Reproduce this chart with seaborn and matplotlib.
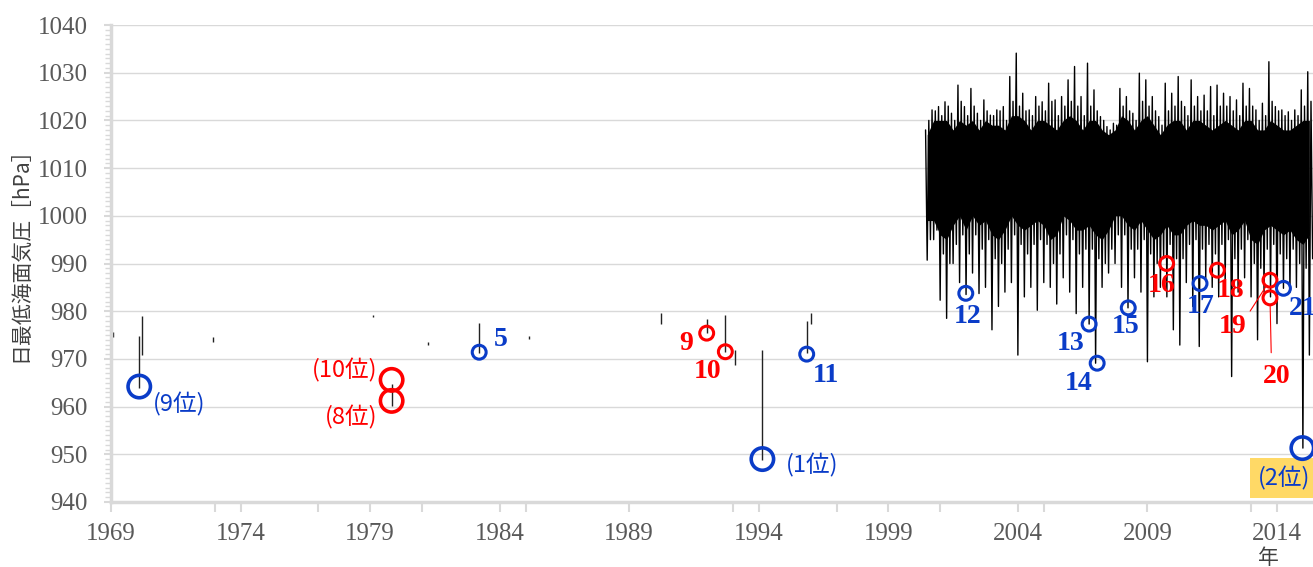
import matplotlib.pyplot as plt
import numpy as np
import pandas as pd
import seaborn as sns
from matplotlib.ticker import FixedLocator, MultipleLocator

# ---- early record: short daily segments (year, low, high) ----
early_year = [1969.08, 1970.09, 1970.21, 1972.95, 1979.10, 1979.83, 1981.22, 1983.21,
              1985.14, 1990.21, 1991.99, 1992.71, 1993.08, 1994.14, 1995.85, 1996.03]
early_low = [974.6, 963.8, 970.8, 973.5, 978.8, 960.1, 972.9, 971.2,
             974.1, 977.3, 975.4, 971.5, 968.7, 948.8, 971.2, 977.3]
early_high = [975.7, 974.7, 979.0, 974.5, 979.1, 964.7, 973.6, 977.6,
              974.8, 979.6, 978.3, 979.2, 971.9, 971.9, 978.0, 979.6]

# ---- continuous record from 2000, read every quarter year ----
dense_year = [2000.50, 2000.75, 2001.00, 2001.25, 2001.50, 2001.75, 2002.00, 2002.25,
              2002.50, 2002.75, 2003.00, 2003.25, 2003.50, 2003.75, 2004.00, 2004.25,
              2004.50, 2004.75, 2005.00, 2005.25, 2005.50, 2005.75, 2006.00, 2006.25,
              2006.50, 2006.75, 2007.00, 2007.25, 2007.50, 2007.75, 2008.00, 2008.25,
              2008.50, 2008.75, 2009.00, 2009.25, 2009.50, 2009.75, 2010.00, 2010.25,
              2010.50, 2010.75, 2011.00, 2011.25, 2011.50, 2011.75, 2012.00, 2012.25,
              2012.50, 2012.75, 2013.00, 2013.25, 2013.50, 2013.75, 2014.00, 2014.25,
              2014.50, 2014.75, 2015.00, 2015.25]
# highest and lowest spike in each quarter
dense_high = [1018.0, 1022.2, 1022.9, 1023.9, 1021.5, 1027.4, 1022.9, 1026.7,
              1021.5, 1024.3, 1021.1, 1022.2, 1022.9, 1029.2, 1034.1, 1025.7,
              1022.2, 1025.0, 1023.9, 1027.8, 1024.3, 1025.0, 1028.5, 1031.3,
              1025.0, 1032.0, 1026.4, 1020.8, 1018.7, 1019.4, 1026.7, 1025.0,
              1021.5, 1029.9, 1028.5, 1025.0, 1020.8, 1027.8, 1025.7, 1029.2,
              1022.9, 1028.5, 1025.0, 1025.3, 1027.1, 1027.4, 1025.7, 1025.0,
              1024.3, 1027.8, 1026.7, 1022.2, 1023.6, 1032.3, 1022.9, 1022.2,
              1021.8, 1022.2, 1026.4, 1030.2]
dense_low = [990.7, 995.0, 982.3, 978.5, 990.0, 986.0, 983.5, 988.0,
             983.7, 985.0, 976.1, 981.0, 984.0, 986.0, 970.8, 983.0,
             985.0, 980.2, 986.0, 985.0, 981.5, 987.0, 984.0, 979.5,
             985.0, 977.3, 969.1, 985.0, 988.0, 990.0, 985.0, 980.7,
             987.0, 984.0, 969.4, 983.0, 985.0, 983.0, 976.1, 972.9,
             986.0, 981.0, 972.6, 987.0, 985.0, 983.0, 985.0, 966.3,
             984.0, 987.0, 983.0, 974.0, 984.0, 983.0, 977.4, 984.8,
             984.0, 985.0, 951.3, 970.8]
# typical (second) swing in each quarter
dense_high2 = [1020, 1022, 1021, 1023, 1020, 1024, 1021, 1023, 1020, 1022, 1021, 1022,
               1020, 1024, 1023, 1022, 1021, 1023, 1022, 1024, 1021, 1023, 1024, 1023,
               1021, 1023, 1022, 1020, 1018, 1019, 1023, 1022, 1020, 1024, 1023, 1022,
               1019, 1022, 1023, 1024, 1021, 1023, 1022, 1022, 1021, 1023, 1023, 1022,
               1021, 1023, 1023, 1020, 1021, 1024, 1022, 1021, 1020, 1021, 1023, 1024]
dense_low2 = [995, 997, 992, 990, 994, 996, 992, 996, 993, 995, 991, 990,
              993, 996, 994, 992, 994, 995, 994, 990, 992, 996, 995, 992,
              993, 993, 991, 990, 993, 996, 996, 993, 993, 995, 992, 990,
              991, 994, 991, 991, 994, 995, 993, 994, 992, 994, 995, 991,
              993, 995, 990, 989, 993, 994, 992, 991, 993, 990, 989, 991]
# edges of the solid black band
core_high = [1017, 1020, 1020, 1020, 1018, 1020, 1019, 1020, 1018, 1020, 1019, 1019,
             1018, 1021, 1021, 1020, 1018, 1020, 1020, 1019, 1018, 1020, 1021, 1020,
             1018, 1020, 1020, 1018, 1017, 1018, 1021, 1020, 1018, 1020, 1021, 1019,
             1017, 1019, 1020, 1020, 1018, 1020, 1020, 1019, 1018, 1019, 1020, 1019,
             1018, 1020, 1020, 1018, 1018, 1020, 1019, 1018, 1018, 1019, 1020, 1020]
core_low = [999, 999, 996, 995, 998, 1000, 997, 1000, 998, 999, 996, 995,
            997, 1000, 998, 997, 998, 999, 998, 995, 996, 1000, 999, 997,
            997, 998, 996, 995, 997, 1000, 1000, 998, 997, 999, 997, 995,
            996, 998, 996, 996, 998, 999, 998, 998, 997, 998, 999, 996,
            997, 999, 995, 994, 997, 998, 997, 996, 997, 995, 994, 996]
# timing of the four swings inside a quarter, relative to dense_year
swing_lag = [-0.0625, 0.0, 0.0625, 0.125]

# ---- marked low-pressure events ----
event_label = ["(9位)", "(10位)", "(8位)", "5", "9", "10", "(1位)", "11", "12", "13", "14",
               "15", "16", "17", "18", "19", "20", "21", "(2位)"]
event_year = [1970.09, 1979.83, 1979.83, 1983.21, 1991.99, 1992.71, 1994.14, 1995.85,
              2001.99, 2006.75, 2007.06, 2008.26, 2009.74, 2011.03, 2011.70, 2013.73,
              2013.73, 2014.25, 2014.98]
event_hpa = [964.2, 965.6, 961.2, 971.4, 975.4, 971.5, 949.0, 971.0,
             983.75, 977.3, 969.1, 980.7, 990.0, 985.8, 988.6, 986.5,
             982.8, 984.8, 951.3]
event_group = ["b", "r", "r", "b", "r", "r", "b", "b", "b", "b", "b",
               "b", "r", "b", "r", "r", "r", "b", "b"]

tick_years = [1969, 1974, 1979, 1984, 1989, 1994, 1999, 2004, 2009, 2014]
minor_years = [1969, 1973, 1977, 1981, 1985, 1989, 1993, 1997, 2001, 2005, 2009, 2013]

BLUE = "#0a3cc8"
RED = "#ff0000"
GRID = "#d9d9d9"
PX = 72 / 100  # points per pixel at dpi 100

# label placement: (dx px, dy px downward, ha)
label_pos = {
    "(9位)": (14, 18, "left"), "(10位)": (-14, -10, "right"), "(8位)": (-14, 16, "right"),
    "(1位)": (23, 6, "left"), "(2位)": (-18, 30, "center"),
    "5": (22, -13, "center"), "9": (-21, 10, "center"), "10": (-18, 20, "center"),
    "11": (19, 21, "center"), "12": (2, 23, "center"), "13": (-19, 19, "center"),
    "14": (-19, 20, "center"), "15": (-3, 19, "center"), "16": (-5, 22, "center"),
    "17": (1, 23, "center"), "18": (13, 20, "center"), "19": (-37, 46, "center"),
    "20": (7, 79, "center"), "21": (5, 20, "left"),
}
big_marks = {"(9位)", "(10位)", "(8位)", "(1位)", "(2位)"}

sns.set_theme(style="white")
plt.rcParams["font.family"] = ["Liberation Serif", "Noto Sans CJK JP", "DejaVu Sans"]

fig = plt.figure(figsize=(13.13, 5.67), dpi=100)
ax = fig.add_axes([111 / 1313, 65 / 567, 1202 / 1313, 477 / 567])

# dense record: solid band plus a line swinging high -> low -> high2 -> low2 each quarter
ax.fill_between(dense_year, core_low, core_high, color="black", lw=0, zorder=2)
rows = []
for t, hi, lo, hi2, lo2 in zip(dense_year, dense_high, dense_low, dense_high2, dense_low2):
    for lag, v in zip(swing_lag, [hi, lo, hi2, lo2]):
        rows.append((t + lag, v))
dense = pd.DataFrame(rows, columns=["year", "hpa"])
sns.lineplot(data=dense, x="year", y="hpa", sort=False, estimator=None,
             color="black", lw=1.0, ax=ax, zorder=2)

ax.vlines(early_year, early_low, early_high, color="#222222", lw=1.0, zorder=2)

# event circles and labels
for lab, yr, hp, grp in zip(event_label, event_year, event_hpa, event_group):
    col = BLUE if grp == "b" else RED
    big = lab in big_marks
    ax.scatter([yr], [hp], s=260 if big else 100, facecolors="none", edgecolors=col,
               linewidths=2.6 if big else 2.2, zorder=5)
    dx, dy, ha = label_pos[lab]
    kw = dict(xy=(yr, hp), xytext=(dx * PX, -dy * PX), textcoords="offset points",
              ha=ha, va="center", color=col, zorder=6)
    if big:
        kw.update(fontsize=17, family=["Noto Sans CJK JP"])
    else:
        kw.update(fontsize=20, fontweight="bold", family=["Liberation Serif"])
    if lab == "(2位)":
        kw.update(bbox=dict(boxstyle="square,pad=0.35", fc="#ffd966", ec="none"), zorder=4)
    if lab == "19":
        kw.update(arrowprops=dict(arrowstyle="-", color=RED, lw=0.8, relpos=(1.0, 0.9),
                                  shrinkA=0, shrinkB=6))
    if lab == "20":
        kw.update(arrowprops=dict(arrowstyle="-", color=RED, lw=0.8, relpos=(0.3, 1.0),
                                  shrinkA=6, shrinkB=5))
    ax.annotate(lab, **kw)

ax.set_xlim(1969, 2015.39)
ax.set_ylim(940, 1040)
ax.xaxis.set_major_locator(FixedLocator(tick_years))
ax.xaxis.set_minor_locator(FixedLocator(minor_years))
ax.yaxis.set_major_locator(MultipleLocator(10))
ax.yaxis.set_minor_locator(MultipleLocator(1))
ax.tick_params(axis="y", which="major", left=True, length=5, width=1.5, color=GRID,
               labelsize=18, labelcolor="#595959", pad=12)
ax.tick_params(axis="y", which="minor", left=True, length=4, width=1, color=GRID)
ax.tick_params(axis="x", which="both", bottom=True, length=7, width=1.5, color=GRID,
               labelsize=18, labelcolor="#595959", pad=8)
ax.grid(axis="y", which="major", color=GRID, lw=1)
ax.set_axisbelow(True)
ax.set_xlabel("")
ax.set_ylabel("")
for side in ["top", "right"]:
    ax.spines[side].set_visible(False)
for side in ["left", "bottom"]:
    ax.spines[side].set_color(GRID)
    ax.spines[side].set_linewidth(2.5)

fig.text(20 / 1313, 1 - 249 / 567, "日最低海面気圧［hPa］", rotation=90, ha="center",
         va="center", fontsize=15, color="#404040", family=["Noto Sans CJK JP"])
fig.text(1268 / 1313, 1 - 558 / 567, "年", ha="center", va="center", fontsize=15,
         color="#404040", family=["Noto Sans CJK JP"])

fig.savefig("out.png", dpi=100)
